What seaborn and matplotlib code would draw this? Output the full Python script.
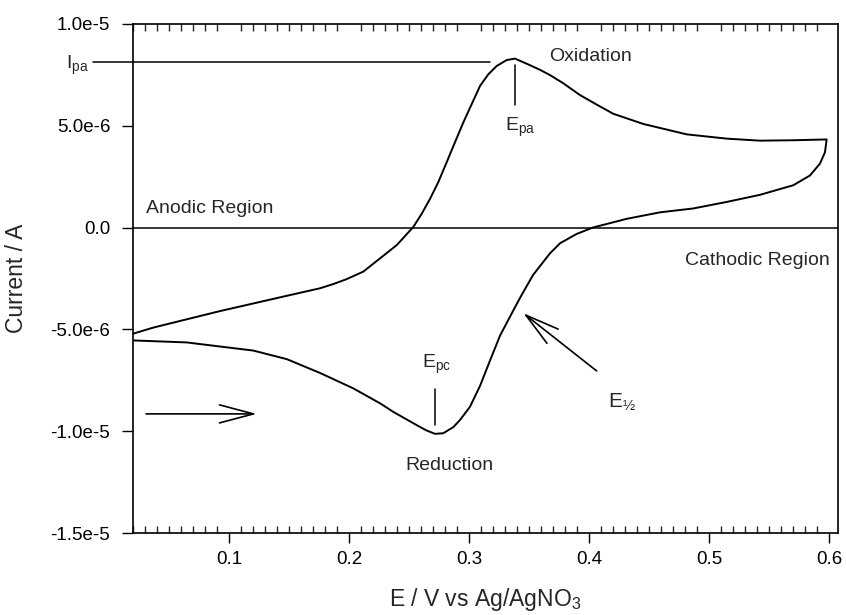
import numpy as np
import pandas as pd
import matplotlib
matplotlib.use("Agg")
import matplotlib.pyplot as plt
from matplotlib.ticker import MultipleLocator, FixedLocator
import seaborn as sns

# ---- data (E in V, I in A) ----
E_forward = [0.0196, 0.0648, 0.1202, 0.1481, 0.1758, 0.2033, 0.2258, 0.2368,
             0.2563, 0.2640, 0.2716, 0.2785, 0.2868, 0.2924, 0.3007, 0.3091,
             0.3174, 0.3257, 0.3340, 0.3424, 0.3532, 0.3674, 0.3757, 0.3896,
             0.4032, 0.4312, 0.4590, 0.4867, 0.5145, 0.5423, 0.5700, 0.5839,
             0.5922, 0.5964, 0.5978]
I_forward = [-5.54e-6, -5.64e-6, -6.04e-6, -6.46e-6, -7.14e-6, -7.89e-6, -8.63e-6, -9.05e-6,
             -9.70e-6, -9.95e-6, -10.13e-6, -10.10e-6, -9.80e-6, -9.45e-6, -8.80e-6, -7.77e-6,
             -6.53e-6, -5.31e-6, -4.38e-6, -3.45e-6, -2.33e-6, -1.26e-6, -0.77e-6, -0.31e-6,
             0.005e-6, 0.43e-6, 0.75e-6, 0.94e-6, 1.26e-6, 1.61e-6, 2.08e-6, 2.56e-6,
             3.14e-6, 3.70e-6, 4.33e-6]
E_reverse = [0.5700, 0.5423, 0.5145, 0.4812, 0.4451, 0.4201, 0.4063, 0.3923,
             0.3784, 0.3674, 0.3590, 0.3479, 0.3382, 0.3313, 0.3230, 0.3160,
             0.3091, 0.3021, 0.2952, 0.2882, 0.2813, 0.2743, 0.2674, 0.2605,
             0.2535, 0.2397, 0.2258, 0.2119, 0.1980, 0.1870, 0.1758, 0.1481,
             0.0925, 0.0370, 0.0196]
I_reverse = [4.29e-6, 4.27e-6, 4.37e-6, 4.58e-6, 5.09e-6, 5.59e-6, 6.04e-6, 6.51e-6,
             7.09e-6, 7.49e-6, 7.75e-6, 8.05e-6, 8.30e-6, 8.23e-6, 7.94e-6, 7.53e-6,
             6.96e-6, 6.06e-6, 5.17e-6, 4.19e-6, 3.21e-6, 2.23e-6, 1.41e-6, 0.68e-6,
             0.03e-6, -0.86e-6, -1.51e-6, -2.16e-6, -2.53e-6, -2.77e-6, -2.98e-6, -3.35e-6,
             -4.10e-6, -4.91e-6, -5.22e-6]

x_ticks = [0.1, 0.2, 0.3, 0.4, 0.5, 0.6]
x_tick_labels = ["0.1", "0.2", "0.3", "0.4", "0.5", "0.6"]
y_ticks = [-1.5e-5, -1.0e-5, -5.0e-6, 0.0, 5.0e-6, 1.0e-5]
y_tick_labels = ["-1.5e-5", "-1.0e-5", "-5.0e-6", "0.0", "5.0e-6", "1.0e-5"]

# ---- style ----
sns.set_style("white")
plt.rcParams["font.family"] = ["Liberation Sans", "DejaVu Sans"]
plt.rcParams["mathtext.fontset"] = "custom"
plt.rcParams["mathtext.rm"] = "Liberation Sans"
plt.rcParams["mathtext.it"] = "Liberation Sans:italic"
plt.rcParams["mathtext.bf"] = "Liberation Sans:bold"
plt.rcParams["mathtext.default"] = "regular"

df = pd.DataFrame({
    "E": E_forward + E_reverse,
    "I": I_forward + I_reverse,
})

W, H = 846, 615
fig = plt.figure(figsize=(W / 100, H / 100), dpi=100)
ax = fig.add_axes([132.5 / W, 1 - 533 / H, (837.7 - 132.5) / W, 509 / H])

sns.lineplot(data=df, x="E", y="I", sort=False, estimator=None,
             color="black", linewidth=1.4, ax=ax)

ax.set_xlim(0.0196, 0.607)
ax.set_ylim(-1.5e-5, 1.0e-5)

ax.xaxis.set_major_locator(FixedLocator(x_ticks))
ax.set_xticklabels(x_tick_labels, fontsize=13.5)
ax.xaxis.set_minor_locator(MultipleLocator(0.01))
ax.yaxis.set_major_locator(FixedLocator(y_ticks))
ax.set_yticklabels(y_tick_labels, fontsize=13.5)

ax.tick_params(axis="x", which="major", direction="out", length=7, width=1.0,
               bottom=True, top=False, pad=6, colors="black")
ax.tick_params(axis="x", which="minor", direction="in", length=5, width=1.0,
               bottom=True, top=True)
ax.tick_params(axis="y", which="major", direction="out", length=8, width=1.0,
               left=True, right=False, pad=8, colors="black")

for sp in ax.spines.values():
    sp.set_visible(True)
    sp.set_color("black")
    sp.set_linewidth(1.2)

ax.set_xlabel("E / V vs Ag/AgNO$_3$", fontsize=16.5)
ax.set_ylabel("Current / A", fontsize=16.5)
ax.xaxis.label.set_va("center")
ax.yaxis.label.set_va("center")
ax.xaxis.set_label_coords(0.5, -0.1300)
ax.yaxis.set_label_coords(-0.1638, 0.5)

# zero line
ax.axhline(0.0, color="black", linewidth=1.1)

# peak markers
ipk = int(np.argmax(I_reverse))
Epa = E_reverse[ipk]
imn = int(np.argmin(I_forward))
Epc = E_forward[imn]

ax.plot([-0.0133, 0.3174], [8.15e-6, 8.15e-6], color="black", lw=1.1, clip_on=False)
ax.plot([Epa, Epa], [8.0e-6, 6.04e-6], color="black", lw=1.1)
ax.plot([Epc, Epc], [-7.94e-6, -9.7e-6], color="black", lw=1.1)

arrow_style = "->,head_length=2.45,head_width=0.65"
ax.annotate("", xy=(0.3451, -4.20e-6), xytext=(0.4062, -7.04e-6),
            arrowprops=dict(arrowstyle=arrow_style, mutation_scale=10,
                            color="black", lw=1.2, shrinkA=0, shrinkB=0))
ax.annotate("", xy=(0.1231, -9.15e-6), xytext=(0.0309, -9.15e-6),
            arrowprops=dict(arrowstyle=arrow_style, mutation_scale=10,
                            color="black", lw=1.2, shrinkA=0, shrinkB=0))

fs = 14
ax.text(0.4007, 8.4e-6, "Oxidation", fontsize=fs, ha="center", va="center")
ax.text(0.284, -1.17e-5, "Reduction", fontsize=fs, ha="center", va="center")
ax.text(0.0842, 0.93e-6, "Anodic Region", fontsize=fs, ha="center", va="center")
ax.text(0.540, -1.62e-6, "Cathodic Region", fontsize=fs, ha="center", va="center")
ax.text(0.3424, 4.9e-6, "E$_{pa}$", fontsize=fs, ha="center", va="center")
ax.text(0.2733, -6.7e-6, "E$_{pc}$", fontsize=fs, ha="center", va="center")
ax.text(0.4271, -8.56e-6, "E$_{½}$", fontsize=15, ha="center", va="center")
ax.text(-0.0266, 7.96e-6, "I$_{pa}$", fontsize=fs, ha="center", va="center")

fig.savefig("out.png", dpi=100)
